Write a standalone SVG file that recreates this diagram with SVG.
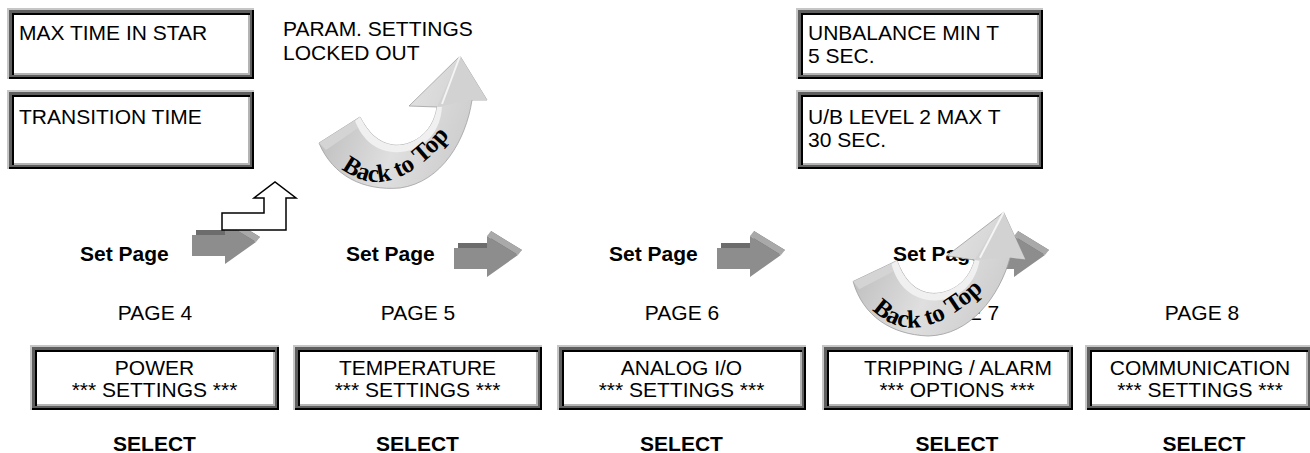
<svg xmlns="http://www.w3.org/2000/svg" width="1310" height="453" viewBox="0 0 1310 453">
  <style>
    .t{font-family:"Liberation Sans",Arial,sans-serif;font-size:21px;fill:#000}
    .b{font-weight:bold}
    .c{text-anchor:middle}
    .fl{fill:#c6c6c6}
    .fk{fill:#000}
    .fd{fill:#5f5f5f}
    .fi{fill:#b4b4b4}
    .fw{fill:#fff}
    .bt{font-family:"Liberation Serif","Times New Roman",serif;font-size:25px;font-weight:bold;fill:#000}
  </style>
  <defs>
    <!-- 3D grey block arrow, origin at the top-left of the tail front face -->
    <g id="gray-arrow">
      <polygon points="4,-5 37,-5 37,-17 68,2 37,24 37,16 4,16" fill="#6c6c6c"/>
      <polygon points="33,-12 37,-17 68,2 64,7" fill="#a9a9a9"/>
      <polygon points="0,0 33,0 33,-12 64,7 33,29 33,21 0,21" fill="#8d8d8d"/>
    </g>
    <linearGradient id="btGrad" x1="0" y1="0" x2="1" y2="0.3">
      <stop offset="0" stop-color="#b2b2b2"/>
      <stop offset="0.3" stop-color="#c9c9c9"/>
      <stop offset="0.6" stop-color="#dfdfdf"/>
      <stop offset="1" stop-color="#cdcdcd"/>
    </linearGradient>
    <path id="btBase" d="M338,166 Q392,212 458,125" fill="none"/>
    <!-- curved "Back to Top" arrow -->
    <g id="back-to-top">
      <path d="M319,143 C333,176 363,191 400,188 C442,182 466,140 472,100 L487,100 L460,56 L409,106 L437,107 C433,135 410,147 393,145 C378,143 368,132 360,117 Z" fill="url(#btGrad)" stroke="#a0a0a0" stroke-width="0.8"/>
      <path d="M319,143 L360,117 L364,124 L326,150 Z" fill="#d4d4d4"/>
      <path d="M360,117 C368,132 378,143 393,145 C410,147 433,135 437,107 L442,107 C440,140 414,154 393,152 C372,150 361,136 355,121 Z" fill="#f0f0f0"/>
      <path d="M460,56 L437,107 L472,100 L487,100 Z" fill="#d2d2d2"/>
      <path d="M460,56 L442,104" stroke="#f4f4f4" stroke-width="2" fill="none"/>
      <text class="bt"><textPath href="#btBase" startOffset="4">Back to Top</textPath></text>
    </g>
  </defs>

  <rect width="1310" height="453" fill="#fff"/>

  <!-- upper parameter boxes -->
  <g id="max-time-in-star">
    <rect class="fl" x="7" y="8" width="247" height="71"/>
    <rect class="fk" x="9" y="10" width="245" height="69"/>
    <rect class="fd" x="9" y="10" width="243" height="67"/>
    <rect class="fk" x="12" y="13" width="238" height="62"/>
    <rect class="fi" x="14" y="15" width="236" height="60"/>
    <rect class="fw" x="14" y="15" width="234" height="58"/>
    <text class="t" x="19" y="40">MAX TIME IN STAR</text>
  </g>
  <g id="transition-time">
    <rect class="fl" x="7" y="90" width="247" height="79"/>
    <rect class="fk" x="9" y="92" width="245" height="77"/>
    <rect class="fd" x="9" y="92" width="243" height="75"/>
    <rect class="fk" x="12" y="95" width="238" height="70"/>
    <rect class="fi" x="14" y="97" width="236" height="68"/>
    <rect class="fw" x="14" y="97" width="234" height="66"/>
    <text class="t" x="19" y="124">TRANSITION TIME</text>
  </g>
  <g id="locked-out">
    <text class="t" x="283" y="36">PARAM. SETTINGS</text>
    <text class="t" x="283" y="60">LOCKED OUT</text>
  </g>
  <g id="unbalance-min-t">
    <rect class="fl" x="796" y="8" width="247" height="71"/>
    <rect class="fk" x="798" y="10" width="245" height="69"/>
    <rect class="fd" x="798" y="10" width="243" height="67"/>
    <rect class="fk" x="801" y="13" width="238" height="62"/>
    <rect class="fi" x="803" y="15" width="236" height="60"/>
    <rect class="fw" x="803" y="15" width="234" height="58"/>
    <text class="t" x="808" y="40">UNBALANCE MIN T</text>
    <text class="t" x="808" y="63">5 SEC.</text>
  </g>
  <g id="ub-level-2-max-t">
    <rect class="fl" x="796" y="90" width="247" height="79"/>
    <rect class="fk" x="798" y="92" width="245" height="77"/>
    <rect class="fd" x="798" y="92" width="243" height="75"/>
    <rect class="fk" x="801" y="95" width="238" height="70"/>
    <rect class="fi" x="803" y="97" width="236" height="68"/>
    <rect class="fw" x="803" y="97" width="234" height="66"/>
    <text class="t" x="808" y="124">U/B LEVEL 2 MAX T</text>
    <text class="t" x="808" y="147">30 SEC.</text>
  </g>

  <!-- page headers -->
  <g id="page-labels">
    <text class="t b" x="80" y="261">Set Page</text>
    <text class="t b" x="346" y="261">Set Page</text>
    <text class="t b" x="609" y="261">Set Page</text>
    <text class="t b" x="893" y="261">Set Page</text>
    <text class="t c" x="155" y="320">PAGE 4</text>
    <text class="t c" x="418" y="320">PAGE 5</text>
    <text class="t c" x="682" y="320">PAGE 6</text>
    <text class="t c" x="962" y="320">PAGE 7</text>
    <text class="t c" x="1202" y="320">PAGE 8</text>
  </g>

  <!-- page menu boxes -->
  <g id="power-settings">
    <rect class="fl" x="30" y="345" width="249" height="65"/>
    <rect class="fk" x="32" y="347" width="247" height="63"/>
    <rect class="fd" x="32" y="347" width="245" height="61"/>
    <rect class="fk" x="35" y="350" width="240" height="56"/>
    <rect class="fi" x="37" y="352" width="238" height="54"/>
    <rect class="fw" x="37" y="352" width="236" height="52"/>
    <text class="t c" x="154.5" y="375">POWER</text>
    <text class="t c" x="154.5" y="397">*** SETTINGS ***</text>
    <text class="t b c" x="154.5" y="451">SELECT</text>
  </g>
  <g id="temperature-settings">
    <rect class="fl" x="293" y="345" width="249" height="65"/>
    <rect class="fk" x="295" y="347" width="247" height="63"/>
    <rect class="fd" x="295" y="347" width="245" height="61"/>
    <rect class="fk" x="298" y="350" width="240" height="56"/>
    <rect class="fi" x="300" y="352" width="238" height="54"/>
    <rect class="fw" x="300" y="352" width="236" height="52"/>
    <text class="t c" x="417.5" y="375">TEMPERATURE</text>
    <text class="t c" x="417.5" y="397">*** SETTINGS ***</text>
    <text class="t b c" x="417.5" y="451">SELECT</text>
  </g>
  <g id="analog-io-settings">
    <rect class="fl" x="557" y="345" width="249" height="65"/>
    <rect class="fk" x="559" y="347" width="247" height="63"/>
    <rect class="fd" x="559" y="347" width="245" height="61"/>
    <rect class="fk" x="562" y="350" width="240" height="56"/>
    <rect class="fi" x="564" y="352" width="238" height="54"/>
    <rect class="fw" x="564" y="352" width="236" height="52"/>
    <text class="t c" x="681.5" y="375">ANALOG I/O</text>
    <text class="t c" x="681.5" y="397">*** SETTINGS ***</text>
    <text class="t b c" x="681.5" y="451">SELECT</text>
  </g>
  <g id="tripping-alarm-options">
    <rect class="fl" x="822" y="345" width="251" height="65"/>
    <rect class="fk" x="824" y="347" width="249" height="63"/>
    <rect class="fd" x="824" y="347" width="247" height="61"/>
    <rect class="fk" x="827" y="350" width="242" height="56"/>
    <rect class="fi" x="829" y="352" width="240" height="54"/>
    <rect class="fw" x="829" y="352" width="238" height="52"/>
    <text class="t c" x="958" y="375">TRIPPING / ALARM</text>
    <text class="t c" x="957" y="397">*** OPTIONS ***</text>
    <text class="t b c" x="957" y="451">SELECT</text>
  </g>
  <g id="communication-settings">
    <rect class="fl" x="1085" y="345" width="227" height="65"/>
    <rect class="fk" x="1087" y="347" width="225" height="63"/>
    <rect class="fd" x="1087" y="347" width="223" height="61"/>
    <rect class="fk" x="1090" y="350" width="218" height="56"/>
    <rect class="fi" x="1092" y="352" width="216" height="54"/>
    <rect class="fw" x="1092" y="352" width="214" height="52"/>
    <text class="t c" x="1200" y="375">COMMUNICATION</text>
    <text class="t c" x="1200" y="397">*** SETTINGS ***</text>
    <text class="t b c" x="1204" y="451">SELECT</text>
  </g>

  <!-- navigation arrows -->
  <g id="connectors">
    <use href="#gray-arrow" transform="translate(192,235)"/>
    <use href="#gray-arrow" transform="translate(454,248)"/>
    <use href="#gray-arrow" transform="translate(717,248)"/>
    <use href="#gray-arrow" transform="translate(981,248)"/>
    <polygon points="222,230 222,213 264,213 264,198 254,198 275,182 296,198 286,198 286,230" fill="#fff" stroke="#000" stroke-width="1.5"/>
    <use href="#back-to-top"/>
    <use href="#back-to-top" transform="rotate(7,928,336) translate(528,148)"/>
  </g>
</svg>
